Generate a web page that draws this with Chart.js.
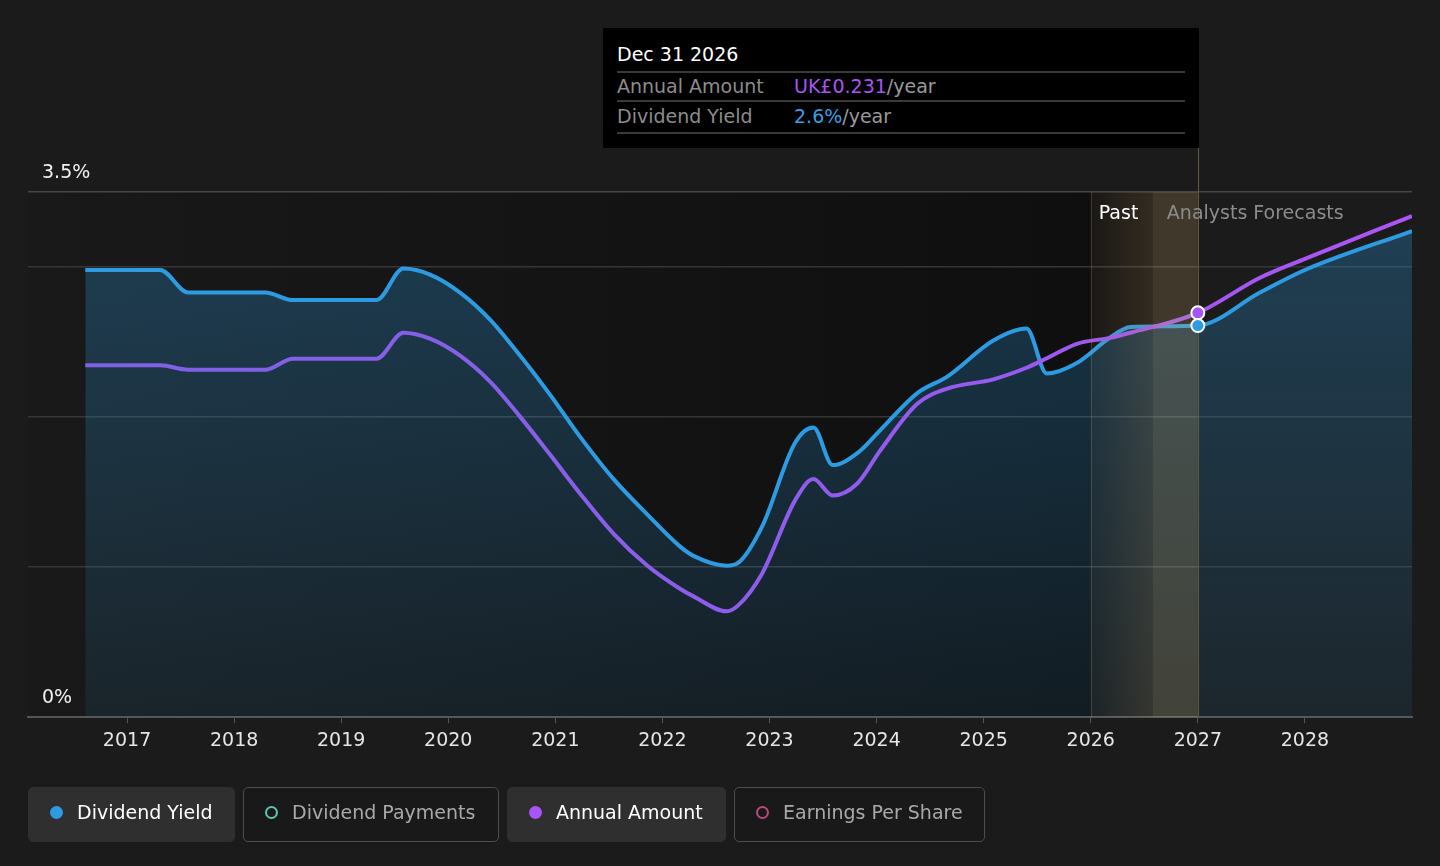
<!DOCTYPE html>
<html>
<head>
<meta charset="utf-8">
<script src="https://cdn.jsdelivr.net/npm/chart.js@4.4.0/dist/chart.umd.min.js"></script>
<style>
  html, body { margin: 0; padding: 0; background: #1b1b1b; }
  body { width: 1440px; height: 866px; position: relative; overflow: hidden; font-family: "DejaVu Sans", sans-serif; }
  #wrap { position: absolute; left: 0; top: 0; width: 1440px; height: 866px; }
  #tip { position: absolute; left: 603px; top: 28px; width: 596px; height: 120px; background: #000; }
  #tip div { position: absolute; font-size: 19px; line-height: 22px; height: 22px; white-space: nowrap; }
  #tip .rule { height: 0; border-top: 2px solid #3a3a3a; left: 14px; width: 568px; }
  .lab { color: #8c8c8c; }
  .unit { color: #9a9a9a; }
  #legend .btn { position: absolute; top: 787px; height: 55px; box-sizing: border-box; border-radius: 5px;
    font-size: 19px; line-height: 48px; white-space: nowrap; }
  #legend .on { background: #2f2f2f; border: 1px solid #2f2f2f; color: #fff; }
  #legend .off { background: #191919; border: 1.5px solid #4e4e4e; color: #a9a9a9; }
  #legend .dot { position: absolute; left: 21px; top: 17.5px; width: 13px; height: 13px; border-radius: 50%; box-sizing: border-box; }
  #legend .txt { position: absolute; left: 48px; top: 0; }
</style>
</head>
<body>
<div id="wrap"><canvas id="chart"></canvas></div>

<div id="tip">
  <div id="tipTitle" style="left:14px;top:15px;color:#fff;"></div>
  <div class="rule" style="top:43px;"></div>
  <div class="lab" style="left:14px;top:47px;">Annual Amount</div>
  <div style="left:191px;top:47px;"><span id="tipAmount" style="color:#a855f7;"></span><span class="unit">/year</span></div>
  <div class="rule" style="top:72px;"></div>
  <div class="lab" style="left:14px;top:77px;">Dividend Yield</div>
  <div style="left:191px;top:77px;"><span id="tipYield" style="color:#3a9ee4;"></span><span class="unit">/year</span></div>
  <div class="rule" style="top:104px;"></div>
</div>

<div id="legend">
  <div class="btn on" style="left:28px;width:207px;"><span class="dot" style="background:#2d9be2;"></span><span class="txt">Dividend Yield</span></div>
  <div class="btn off" style="left:243px;width:256px;"><span class="dot" style="border:2px solid #5ec4b0;"></span><span class="txt">Dividend Payments</span></div>
  <div class="btn on" style="left:507px;width:219px;"><span class="dot" style="background:#a855f7;"></span><span class="txt">Annual Amount</span></div>
  <div class="btn off" style="left:734px;width:251px;"><span class="dot" style="border:2px solid #b84a80;"></span><span class="txt">Earnings Per Share</span></div>
</div>

<script>
// dates as decimal years
const dates = [2016.61, 2017.31, 2017.57, 2018.29, 2018.55, 2019.33, 2019.58, 2019.83, 2020.11, 2020.39,
  2020.67, 2020.95, 2021.23, 2021.54, 2021.86, 2022.16, 2022.29, 2022.60, 2022.71, 2022.93,
  2023.24, 2023.41, 2023.59, 2023.82, 2024.03, 2024.38, 2024.66, 2025.09, 2025.40, 2025.59,
  2025.87, 2026.18, 2026.37, 2027.00, 2027.58, 2028.00, 2029.00];
// dividend yield (%)
const dividendYield = [2.98, 2.98, 2.83, 2.83, 2.78, 2.78, 2.99, 2.95, 2.83, 2.65,
  2.41, 2.15, 1.87, 1.59, 1.35, 1.14, 1.075, 1.01, 1.03, 1.27,
  1.83, 1.93, 1.68, 1.76, 1.91, 2.16, 2.27, 2.51, 2.59, 2.29,
  2.36, 2.53, 2.60, 2.61, 2.83, 2.98, 3.24];
// annual amount (UK£)
const annualAmount = [0.201, 0.201, 0.1985, 0.1985, 0.2048, 0.2048, 0.2196, 0.2162, 0.2065, 0.1917,
  0.1717, 0.150, 0.1278, 0.105, 0.0865, 0.0735, 0.069, 0.0605, 0.064, 0.082,
  0.124, 0.136, 0.1266, 0.1335, 0.152, 0.179, 0.1877, 0.193, 0.1996, 0.205,
  0.2133, 0.2167, 0.2196, 0.231, 0.251, 0.2618, 0.2863];
const tickYears = [2017, 2018, 2019, 2020, 2021, 2022, 2023, 2024, 2025, 2026, 2027, 2028];
const yieldTicks = [0, 1, 2, 3, 3.5];
const pastStart = 2026;
const pastInner = 2026.58;
const hoverDate = 2027;
const hoverIndex = dates.indexOf(hoverDate);

document.getElementById("tipTitle").textContent = "Dec 31 2026";
document.getElementById("tipAmount").textContent = "UK£" + annualAmount[hoverIndex].toFixed(3);
document.getElementById("tipYield").textContent = dividendYield[hoverIndex].toFixed(1) + "%";

Chart.defaults.font.family = '"DejaVu Sans", sans-serif';
Chart.defaults.font.size = 19;

const overlay = {
  id: "overlay",
  beforeDraw(chart) {
    const { ctx, chartArea: a, scales: { x } } = chart;
    const xp = x.getPixelForValue(pastStart);
    const xn = x.getPixelForValue(hoverDate);
    ctx.save();
    const g = ctx.createLinearGradient(a.left, 0, xp, 0);
    g.addColorStop(0, "#191919");
    g.addColorStop(1, "#0f0f0f");
    ctx.fillStyle = g;
    ctx.fillRect(a.left, a.top, xp - a.left, a.bottom - a.top);
    ctx.fillStyle = "#111111";
    ctx.fillRect(xp, a.top, xn - xp, a.bottom - a.top);
    ctx.restore();
  },
  afterDatasetsDraw(chart) {
    const { ctx, chartArea: a, scales: { x } } = chart;
    const xp = x.getPixelForValue(pastStart);
    const xi = x.getPixelForValue(pastInner);
    const xn = x.getPixelForValue(hoverDate);
    ctx.save();
    // past band
    const g = ctx.createLinearGradient(xp, 0, xi, 0);
    g.addColorStop(0, "rgba(190,150,95,0.05)");
    g.addColorStop(1, "rgba(190,150,95,0.2)");
    ctx.fillStyle = g;
    ctx.fillRect(xp, a.top, xi - xp, a.bottom - a.top);
    ctx.fillStyle = "rgba(200,172,118,0.26)";
    ctx.fillRect(xi, a.top, xn - xi, a.bottom - a.top);
    ctx.strokeStyle = "rgba(190,160,110,0.25)";
    ctx.lineWidth = 1;
    ctx.beginPath();
    ctx.moveTo(Math.round(xp) + 0.5, a.top);
    ctx.lineTo(Math.round(xp) + 0.5, a.bottom);
    ctx.stroke();
    ctx.strokeStyle = "#655842";
    ctx.beginPath();
    ctx.moveTo(Math.round(xn) + 0.5, 148);
    ctx.lineTo(Math.round(xn) + 0.5, a.bottom);
    ctx.stroke();
    // labels
    ctx.font = '19px "DejaVu Sans", sans-serif';
    ctx.textBaseline = "middle";
    ctx.textAlign = "left";
    ctx.fillStyle = "#ffffff";
    ctx.fillText("Past", xp + 8, a.top + 22);
    ctx.fillStyle = "#8c8c8c";
    ctx.fillText("Analysts Forecasts", xn - 31, a.top + 22);
    // hover markers
    chart.data.datasets.forEach((ds, i) => {
      const el = chart.getDatasetMeta(i).data[hoverIndex];
      if (!el) return;
      ctx.beginPath();
      ctx.arc(el.x, el.y, 6.5, 0, Math.PI * 2);
      ctx.fillStyle = ds.markerColor;
      ctx.fill();
      ctx.lineWidth = 2;
      ctx.strokeStyle = "#ffffff";
      ctx.stroke();
    });
    ctx.restore();
  }
};

const pts = vals => dates.map((d, i) => ({ x: d, y: vals[i] }));

new Chart(document.getElementById("chart"), {
  type: "line",
  data: {
    datasets: [
      {
        label: "Annual Amount",
        data: pts(annualAmount),
        yAxisID: "y1",
        markerColor: "#a855f7",
        borderWidth: 4,
        pointRadius: 0,
        cubicInterpolationMode: "monotone",
        fill: false,
        borderColor: ctx => {
          const a = ctx.chart.chartArea;
          if (!a) return "#8b5cf6";
          const g = ctx.chart.ctx.createLinearGradient(a.left, 0, a.right, 0);
          g.addColorStop(0, "#7b62e4");
          g.addColorStop(0.55, "#8f5cec");
          g.addColorStop(1, "#ad55f4");
          return g;
        }
      },
      {
        label: "Dividend Yield",
        data: pts(dividendYield),
        yAxisID: "y",
        markerColor: "#2d9be2",
        borderColor: "#2d9be2",
        borderWidth: 4,
        pointRadius: 0,
        cubicInterpolationMode: "monotone",
        fill: "origin",
        backgroundColor: ctx => {
          const a = ctx.chart.chartArea;
          if (!a) return "rgba(45,155,226,0.2)";
          const g = ctx.chart.ctx.createLinearGradient(0, a.top, 0, a.bottom);
          g.addColorStop(0, "rgba(45,155,226,0.3)");
          g.addColorStop(1, "rgba(45,155,226,0.09)");
          return g;
        }
      }
    ]
  },
  options: {
    responsive: true,
    maintainAspectRatio: false,
    animation: false,
    events: [],
    layout: { padding: { left: 0, right: 28, top: 192, bottom: 108 } },
    plugins: { legend: { display: false }, tooltip: { enabled: false } },
    scales: {
      x: {
        type: "linear",
        min: 2016.075,
        max: 2029,
        afterBuildTicks: axis => { axis.ticks = tickYears.map(v => ({ value: v })); },
        ticks: { color: "#e6e6e6", padding: 6, maxRotation: 0, callback: v => String(v) },
        grid: { drawOnChartArea: false, drawTicks: true, tickLength: 6, color: "#555555" },
        border: { color: "#555555", width: 2 }
      },
      y: {
        min: 0,
        max: 3.5,
        afterBuildTicks: axis => { axis.ticks = yieldTicks.map(v => ({ value: v })); },
        ticks: {
          mirror: true,
          padding: 14,
          labelOffset: -19,
          color: "#f0f0f0",
          callback: v => (v === 0 ? "0%" : v === 3.5 ? "3.5%" : "")
        },
        grid: { drawTicks: false, color: ctx => (ctx.tick && ctx.tick.value === 3.5 ? "#474747" : "#363636"), lineWidth: 1.5 },
        border: { display: false }
      },
      y1: { display: false, min: 0, max: 0.3 }
    }
  },
  plugins: [overlay]
});
</script>
</body>
</html>
